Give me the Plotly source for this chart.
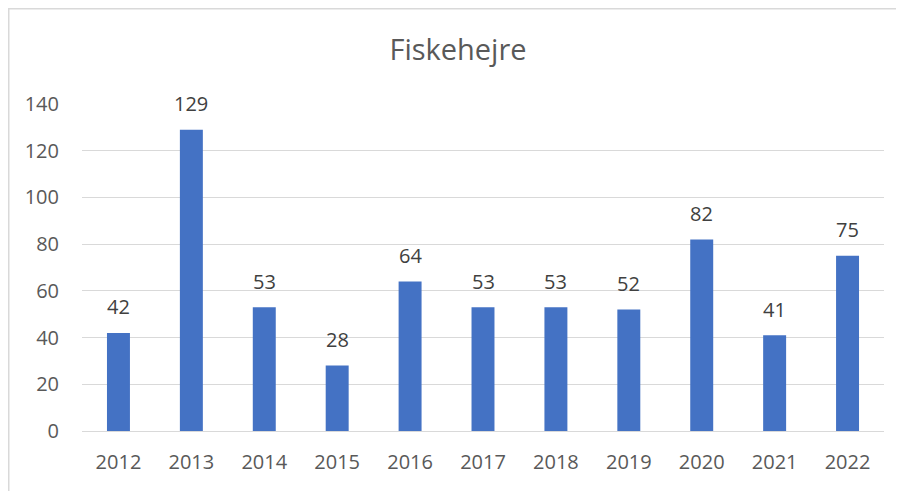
import plotly.graph_objects as go

years = ["2012", "2013", "2014", "2015", "2016", "2017", "2018", "2019", "2020", "2021", "2022"]
counts = [42, 129, 53, 28, 64, 53, 53, 52, 82, 41, 75]

# page has an 8px body margin; figure sized to fit the window
OFF = 8
W, H = 904 - OFF, 491 - OFF
L, R, T, B = 82 - OFF, 20, 104 - OFF, 60
pw, ph = W - L - R, H - T - B
FONT = "Open Sans, Liberation Sans, sans-serif"

fig = go.Figure(go.Bar(
    x=years, y=counts,
    marker=dict(color="#4472c4", line=dict(width=0)),
    hoverinfo="x+y",
))

# value labels: category index positions on the category axis
for i, v in enumerate(counts):
    fig.add_annotation(x=i, y=v, xref="x", yref="y", text=str(v), showarrow=False,
                       yanchor="middle", yshift=26,
                       font=dict(family=FONT, size=20, color="#404040"))

fig.update_layout(
    width=W, height=H,
    margin=dict(l=L, r=R, t=T, b=B),
    paper_bgcolor="white", plot_bgcolor="white",
    bargap=0.685,
    showlegend=False,
    title=dict(text="Fiskehejre", x=(458 - OFF) / W, xanchor="center", xref="container",
               y=1 - (50 - OFF) / H, yanchor="middle", yref="container",
               font=dict(family=FONT, size=29, color="#595959")),
    xaxis=dict(type="category", range=[-0.5, len(years) - 0.5], showgrid=False, showline=True,
               linecolor="#d9d9d9", linewidth=1, ticks="",
               ticklabelstandoff=13,
               tickfont=dict(family=FONT, size=20, color="#595959")),
    yaxis=dict(range=[0, 140], dtick=20, showgrid=True, gridcolor="#d9d9d9", gridwidth=1,
               zeroline=False, showline=False, ticks="", ticklabelstandoff=22,
               tickfont=dict(family=FONT, size=20, color="#595959")),
)

fig.add_shape(type="rect", xref="paper", yref="paper",
              x0=(0.75 - L) / pw, x1=(W + 10 - L) / pw,
              y0=-(B + 10) / ph, y1=(ph + T - 0.75) / ph,
              line=dict(color="#d9d9d9", width=1.5), fillcolor="rgba(0,0,0,0)", layer="below")

fig.write_html("out.html")
